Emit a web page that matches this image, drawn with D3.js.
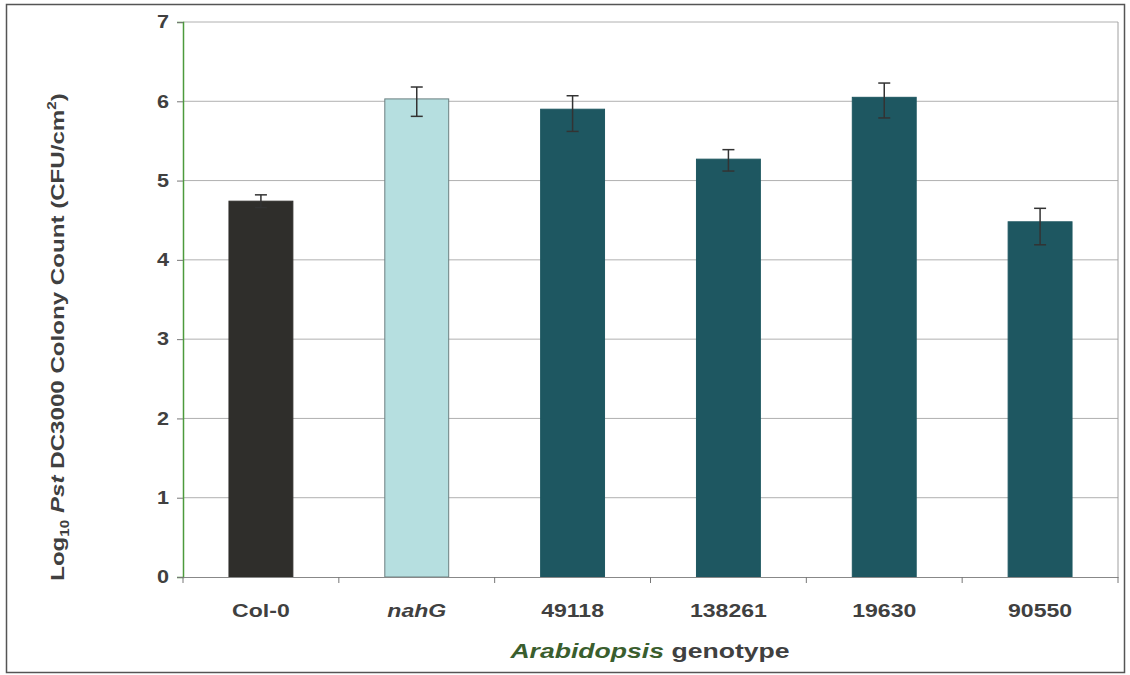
<!DOCTYPE html>
<html>
<head>
<meta charset="utf-8">
<script src="https://cdn.jsdelivr.net/npm/d3@7"></script>
<style>
  html, body { margin: 0; padding: 0; background: #fff; }
  svg { display: block; }
  text { font-family: "Liberation Sans", Arial, sans-serif; }
</style>
</head>
<body>
<svg id="chart" width="1130" height="675"></svg>
<script>
// Bacterial growth per genotype (log10 CFU/cm2) with error bars
const genotypes = ["Col-0", "nahG", "49118", "138261", "19630", "90550"];
const italicLabels = ["nahG"];
const means = [4.74, 6.03, 5.90, 5.27, 6.05, 4.48];
const errUp = [0.08, 0.15, 0.17, 0.12, 0.18, 0.17];
const errDown = [0.08, 0.22, 0.28, 0.15, 0.26, 0.29];
const yTicks = [0, 1, 2, 3, 4, 5, 6, 7];
const barColors = ["#2f2e2b", "#b6dfe0", "#1e5761", "#1e5761", "#1e5761", "#1e5761"];

const svg = d3.select("#chart");
const margin = { left: 183, right: 1118, top: 22, bottom: 577 };
const widen = 1.28; // labels are set in a wide, stretched face

const x = d3.scaleBand().domain(genotypes)
  .range([margin.left, margin.right]).paddingInner(0.59).paddingOuter(0.295);
const y = d3.scaleLinear().domain([0, 7]).range([margin.bottom, margin.top]);

function stretch(sel, k) {
  sel.each(function () {
    const w = this.getComputedTextLength();
    d3.select(this).attr("textLength", w * k).attr("lengthAdjust", "spacingAndGlyphs");
  });
}

// outer frame
svg.append("rect").attr("x", 6.5).attr("y", 4.5).attr("width", 1118).attr("height", 668)
  .attr("fill", "none").attr("stroke", "#555").attr("stroke-width", 1.5);

// gridlines
svg.append("g").selectAll("line").data(yTicks.filter(d => d > 0)).join("line")
  .attr("x1", margin.left).attr("x2", margin.right)
  .attr("y1", d => y(d)).attr("y2", d => y(d))
  .attr("stroke", "#b0b0b0").attr("stroke-width", 1);

// plot area border (right side)
svg.append("line").attr("x1", margin.right).attr("x2", margin.right)
  .attr("y1", margin.top).attr("y2", margin.bottom)
  .attr("stroke", "#a0a0a0");

// bars
svg.append("g").selectAll("rect").data(genotypes).join("rect")
  .attr("x", d => x(d)).attr("width", x.bandwidth())
  .attr("y", (d, i) => y(means[i])).attr("height", (d, i) => y(0) - y(means[i]))
  .attr("fill", (d, i) => barColors[i])
  .attr("stroke", (d, i) => i === 1 ? "#6b7f80" : barColors[i]).attr("stroke-width", 1);

// error bars
const eb = svg.append("g").attr("stroke", "#333").attr("stroke-width", 1.5);
genotypes.forEach((g, i) => {
  const cx = x(g) + x.bandwidth() / 2;
  const top = y(means[i] + errUp[i]);
  const bot = y(means[i] - errDown[i]);
  eb.append("line").attr("x1", cx).attr("x2", cx).attr("y1", top).attr("y2", bot);
  eb.append("line").attr("x1", cx - 6).attr("x2", cx + 6).attr("y1", top).attr("y2", top);
  eb.append("line").attr("x1", cx - 6).attr("x2", cx + 6).attr("y1", bot).attr("y2", bot);
});

// y axis
const yAxis = svg.append("g").attr("transform", `translate(${margin.left},0)`)
  .call(d3.axisLeft(y).tickValues(yTicks).tickSize(6).tickPadding(8).tickFormat(d3.format("d")));
yAxis.select(".domain").attr("stroke", "#4c9a3c").attr("stroke-width", 1.5);
yAxis.selectAll(".tick line").attr("stroke", "#777");
yAxis.selectAll(".tick text").attr("fill", "#404040").attr("font-size", 18).attr("font-weight", "bold")
  .call(stretch, 1.2);

// x axis
const xAxis = svg.append("g").attr("transform", `translate(0,${margin.bottom})`)
  .call(d3.axisBottom(x).tickSize(0).tickPadding(27));
xAxis.select(".domain").attr("stroke", "#888").attr("stroke-width", 1.2);
xAxis.selectAll(".tick text").attr("fill", "#404040").attr("font-size", 18).attr("font-weight", "bold")
  .attr("font-style", d => italicLabels.includes(d) ? "italic" : "normal")
  .call(stretch, widen);
// boundary ticks between categories
const bounds = genotypes.map(g => x(g) - x.step() * x.paddingInner() / 2).concat([margin.right]);
svg.append("g").selectAll("line").data(bounds).join("line")
  .attr("x1", d => d).attr("x2", d => d)
  .attr("y1", margin.bottom).attr("y2", margin.bottom + 6)
  .attr("stroke", "#777");

// x axis title
const xt = svg.append("text").attr("transform", "translate(650,658) scale(1.33,1)")
  .attr("text-anchor", "middle")
  .attr("font-size", 20).attr("font-weight", "bold").attr("fill", "#404040");
xt.append("tspan").attr("font-style", "italic").attr("fill", "#3a5e2e").text("Arabidopsis");
xt.append("tspan").text(" genotype");

// y axis title
const yt = svg.append("text").attr("transform", "translate(64,337) rotate(-90) scale(1.27,1)")
  .attr("text-anchor", "middle").attr("font-size", 19).attr("font-weight", "bold").attr("fill", "#404040");
yt.append("tspan").text("Log");
yt.append("tspan").attr("font-size", 12).attr("dy", 5).text("10");
yt.append("tspan").attr("dy", -5).text(" ");
yt.append("tspan").attr("font-style", "italic").text("Pst");
yt.append("tspan").text(" DC3000 Colony Count (CFU/cm");
yt.append("tspan").attr("font-size", 12).attr("dy", -8).text("2");
yt.append("tspan").attr("dy", 8).text(")");
</script>
</body>
</html>
